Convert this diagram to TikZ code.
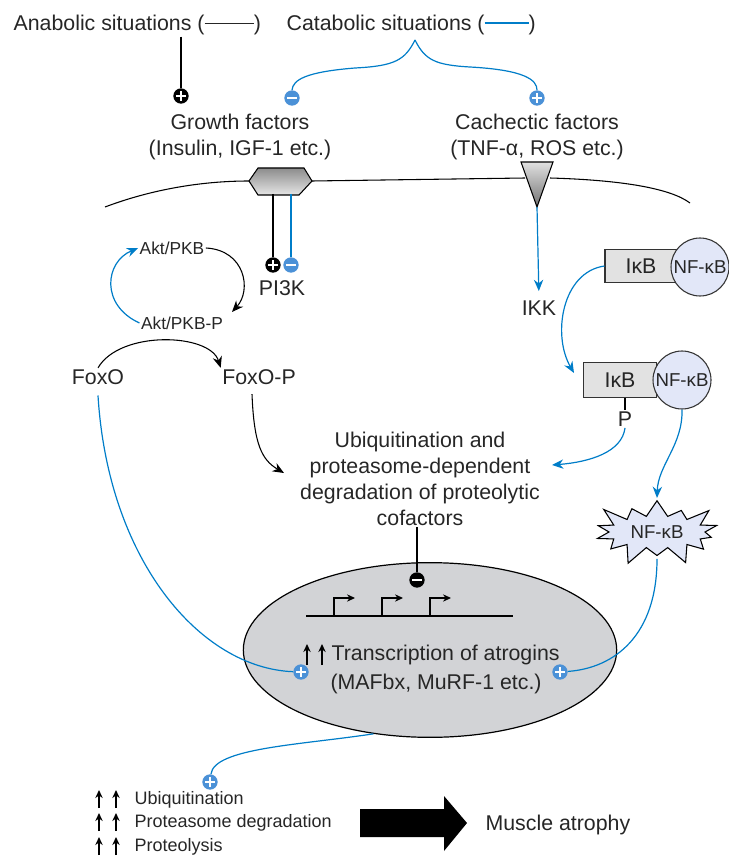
\documentclass[tikz,border=0pt]{standalone}
\usepackage{fontspec}
\setmainfont{Liberation Sans}
\usetikzlibrary{arrows.meta,shapes.geometric,shapes.symbols}
\definecolor{lblue}{RGB}{0,125,200}
\definecolor{cblue}{RGB}{75,145,215}
\definecolor{nfblue}{RGB}{226,231,248}
\definecolor{ellgray}{RGB}{210,211,214}
\definecolor{boxgray}{RGB}{226,226,226}
\newcommand{\fmain}{\fontsize{16}{19.5}\selectfont}
\newcommand{\fsmall}{\fontsize{13}{15}\selectfont}
\newcommand{\flist}{\fontsize{13.5}{16}\selectfont}
\newcommand{\fnf}{\fontsize{14}{16}\selectfont}
\begin{document}
\begin{tikzpicture}[x=0.75pt,y=-0.75pt,
 lab/.style={inner sep=1pt,font=\fmain,text=black!85},
 sgn/.style={circle,inner sep=0pt,minimum size=11.5pt},
 plusmark/.style={sgn,path picture={\draw[white,line width=1.2pt] (path picture bounding box.center) +(-3.6pt,0) -- +(3.6pt,0) (path picture bounding box.center) +(0,-3.6pt) -- +(0,3.6pt);}},
 minusmark/.style={sgn,path picture={\draw[white,line width=1.2pt] (path picture bounding box.center) +(-3.6pt,0) -- +(3.6pt,0);}},
 bplusn/.style={plusmark,fill=black},
 bminusn/.style={minusmark,fill=black},
 cplusn/.style={plusmark,fill=cblue},
 cminusn/.style={minusmark,fill=cblue},
 bl/.style={draw=black,line width=0.8pt},
 blu/.style={draw=lblue,line width=0.9pt},
 tip/.style={-{Stealth[length=8.5pt,width=7pt]}},
 smalltip/.style={-{Stealth[length=6pt,width=5.5pt]}},
]
\useasboundingbox (0,0) rectangle (728,859);

% ---------- top labels ----------
\node[lab,anchor=west] (anab) at (12,25) {Anabolic situations (\rule[5pt]{37pt}{0.9pt})};
\node[lab,anchor=west] (catab) at (285,25) {Catabolic situations (\textcolor{lblue}{\rule[5pt]{33pt}{1.1pt}})};

\node[bplusn] (aplus) at (181,96) {};
\node[cminusn] (cminus) at (292,98) {};
\node[cplusn] (cplus) at (537,98) {};
\coordinate (cattop) at (415,40);

\draw[bl] (anab.south -| aplus) -- (aplus);
\draw[blu] (cattop) .. controls (405,60) and (395,66) .. (355,68)
  .. controls (305,72) and (293,80) .. (cminus.north);
\draw[blu] (cattop) .. controls (425,60) and (435,65) .. (470,67)
  .. controls (525,70) and (537,80) .. (cplus.north);

\node[lab,align=center] (growth) at (240,137) {Growth factors\\(Insulin, IGF-1 etc.)};
\node[lab,align=center] (cach) at (537,137) {Cachectic factors\\(TNF-α, ROS etc.)};

% ---------- membrane ----------
\coordinate (hexl) at (249,181);
\coordinate (hexr) at (312,181);
\coordinate (hexbot) at (282,194);
\coordinate (trl) at (521,162);
\coordinate (trr) at (553,162);
\coordinate (tritip) at (537,207);
\draw[bl] (105,207) .. controls (150,190) and (200,181) .. (hexl);
\draw[bl] (hexr) -- (525,178);
\draw[bl] (550,178) .. controls (620,180) and (670,188) .. (690,203);
\draw[bl,top color=black!45,bottom color=black!10]
  (hexl) -- (258,168) -- (304,168) -- (hexr) -- (299,195) -- (258,195) -- cycle;
\draw[bl,top color=black!12,bottom color=black!55] (trl) -- (trr) -- (tritip) -- cycle;

% ---------- PI3K ----------
\node[bplusn] (pplus) at (273,265) {};
\node[cminusn] (pminus) at (291,265) {};
\node[lab] (pi3k) at (282,288) {PI3K};
\draw[bl] (pplus |- hexbot) -- (pplus);
\draw[blu] (pminus |- hexbot) -- (pminus);

% ---------- Akt loop ----------
\node[lab,font=\fsmall] (akt) at (172,248) {Akt/PKB};
\node[lab,font=\fsmall] (aktp) at (182,323) {Akt/PKB-P};
\draw[bl,tip] (akt.east) .. controls (245,250) and (252,290) .. (232,312);
\draw[blu,tip] (aktp.west) .. controls (100,305) and (105,262) .. (akt.west);

% ---------- FoxO ----------
\node[lab] (foxo) at (98,377) {FoxO};
\node[lab] (foxop) at (259,377) {FoxO-P};
\draw[bl,tip] (foxo.north) .. controls (120,330) and (210,333) .. (foxop.north west);

% ---------- ubiquitination ----------
\node[lab,align=center] (ubiq) at (420,479) {Ubiquitination and\\proteasome-dependent\\degradation of proteolytic\\cofactors};
\draw[bl,tip] ([yshift=-6pt]foxop.south -| 252,0) .. controls (254,445) and (262,460) .. (284,473);

% ---------- NF-kB pathway ----------
\node[lab] (ikk) at (539,308) {IKK};
\draw[blu,tip,shorten >=6pt] (tritip) -- (ikk.north);

\node[lab,draw=black!80,line width=0.8pt,fill=boxgray,minimum width=54pt,minimum height=25pt] (box1) at (641,266) {IκB};
\node[draw=black!80,line width=0.8pt,fill=nfblue,circle,minimum size=43.5pt,inner sep=0pt,font=\fnf,text=black!85] (nf1) at (700,267) {NF-κB};

\node[lab,draw=black!80,line width=0.8pt,fill=boxgray,minimum width=55pt,minimum height=26pt] (box2) at (620,380) {IκB};
\node[draw=black!80,line width=0.8pt,fill=nfblue,circle,minimum size=43.5pt,inner sep=0pt,font=\fnf,text=black!85] (nf2) at (682,380) {NF-κB};
\node[lab] (p) at (625,419) {P};
\draw[bl] (box2.south -| p) -- (p.north);

\draw[blu,tip] (box1.west) .. controls (562,272) and (552,335) .. (574,373);

\coordinate (pend) at (552,465);
\draw[blu,tip] (p.south) .. controls (622,452) and (590,462) .. (pend);

\node[starburst,starburst points=14,starburst point height=16pt,draw,line width=0.8pt,fill=nfblue,minimum width=104pt,minimum height=56pt,inner sep=0pt,font=\fnf,text=black!85] (star) at (657,532) {NF-κB};
\draw[blu,tip] (nf2.south) .. controls (683,445) and (658,465) .. (657,498);

% ---------- nucleus ----------
\node[ellipse,draw,line width=0.9pt,fill=ellgray,minimum width=280pt,minimum height=131pt,inner sep=0pt] (ell) at (430,650) {};
\node[bminusn] (umin) at (417,580) {};
\draw[bl] (umin |- ubiq.south) -- (umin);

\coordinate (gl) at (306,616);
\coordinate (gr) at (513,616);
\coordinate (g1) at (334,616);
\coordinate (g2) at (382,616);
\coordinate (g3) at (430,616);
\draw[bl] (gl) -- (gr);
\draw[bl,smalltip] (g1) |- ++(21,-18);
\draw[bl,smalltip] (g2) |- ++(21,-18);
\draw[bl,smalltip] (g3) |- ++(21,-18);

\node[lab,anchor=west] (trans) at (330,655) {Transcription of atrogins};
\node[lab,anchor=west] (mafbx) at (329,684) {(MAFbx, MuRF-1 etc.)};
\draw[bl,line width=1pt,smalltip] (307,665) -- (307,644);
\draw[bl,line width=1pt,smalltip] (322,665) -- (322,644);

\node[cplusn] (lplus) at (301,672) {};
\node[cplusn] (rplus) at (560,672) {};
\draw[blu] ([yshift=-7pt]foxo.south) .. controls (108,560) and (200,668) .. (lplus);
\draw[blu] ([yshift=-2pt]star.south) .. controls (657,635) and (615,668) .. (rplus);

% ---------- bottom ----------
\node[cplusn] (bplus) at (210,782) {};
\draw[blu] (ell.236) .. controls (300,745) and (214,748) .. (bplus);

\node[lab,anchor=west,font=\flist] (l1) at (133,800) {Ubiquitination};
\node[lab,anchor=west,font=\flist] (l2) at (133,823) {Proteasome degradation};
\node[lab,anchor=west,font=\flist] (l3) at (133,847) {Proteolysis};
\foreach \yy in {800,823,847}{
  \draw[bl,line width=1pt,smalltip] (99,\yy+8) -- (99,\yy-10);
  \draw[bl,line width=1pt,smalltip] (116,\yy+8) -- (116,\yy-10);
}
\fill[black] (360,809) -- (444,809) -- (444,796) -- (467,823) -- (444,851) -- (444,837) -- (360,837) -- cycle;
\node[lab,anchor=west] (muscle) at (484,825) {Muscle atrophy};
\end{tikzpicture}
\end{document}
